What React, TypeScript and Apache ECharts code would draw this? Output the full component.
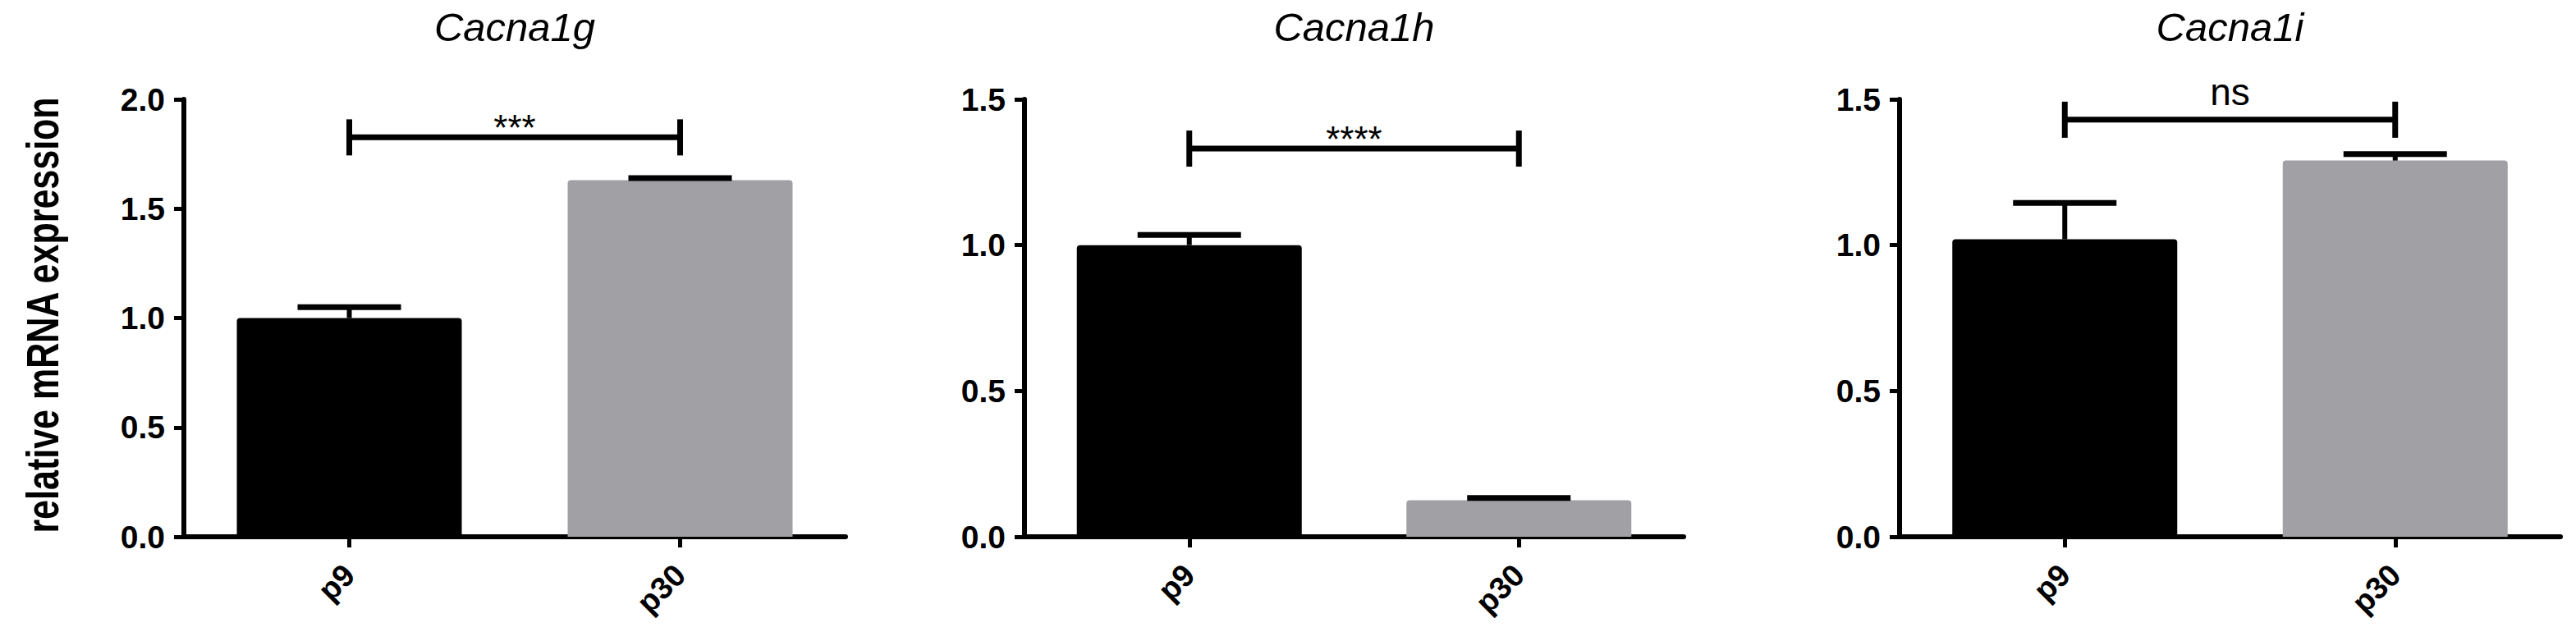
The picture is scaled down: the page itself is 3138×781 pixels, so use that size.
import React, { useEffect, useRef } from "react";
import * as echarts from "echarts";

// ---- data ----
const categories = ["p9", "p30"];
const genes = ["Cacna1g", "Cacna1h", "Cacna1i"];
const meansG = [1.0, 1.63];
const semsG = [0.05, 0.01];
const meansH = [1.0, 0.125];
const semsH = [0.035, 0.008];
const meansI = [1.02, 1.29];
const semsI = [0.125, 0.022];
const yMaxes = [2.0, 1.5, 1.5];
const yInterval = 0.5;
const sigLabels = ["***", "****", "ns"];
const sigLevels = [1.826, 1.331, 1.43];
const barColors = ["#000000", "#a1a0a5"];
const yAxisTitle = "relative mRNA expression";

const FONT = "'Liberation Sans', Arial, Helvetica, sans-serif";

export default function App() {
  const ref = useRef<HTMLDivElement>(null);

  useEffect(() => {
    if (!ref.current) return;
    const chart = echarts.init(ref.current, undefined, { renderer: "svg" });

    const means = [meansG, meansH, meansI];
    const sems = [semsG, semsH, semsI];
    const gridLefts = [224, 1248, 2314];
    const gridWidths = [806, 803, 805];

    const grids = gridLefts.map((l, i) => ({
      left: l,
      width: gridWidths[i],
      top: 121,
      bottom: 127,
      containLabel: false,
    }));

    const xAxes = gridLefts.map((_, i) => ({
      type: "category",
      gridIndex: i,
      data: categories,
      axisLine: { show: true, lineStyle: { color: "#000", width: 6 } },
      axisTick: { show: true, alignWithLabel: true, length: 13, lineStyle: { color: "#000", width: 5 } },
      axisLabel: {
        rotate: 45,
        margin: 40,
        color: "#000",
        fontSize: 38,
        fontWeight: "bold",
        fontFamily: FONT,
      },
      splitLine: { show: false },
    }));

    const yAxes = gridLefts.map((_, i) => ({
      type: "value",
      gridIndex: i,
      min: 0,
      max: yMaxes[i],
      interval: yInterval,
      axisLine: { show: true, lineStyle: { color: "#000", width: 6 } },
      axisTick: { show: true, length: 12, lineStyle: { color: "#000", width: 5 } },
      axisLabel: {
        margin: 23,
        color: "#000",
        fontSize: 39,
        fontWeight: "bold",
        fontFamily: FONT,
        formatter: (v: number) => v.toFixed(1),
      },
      splitLine: { show: false },
    }));

    const series: any[] = [];
    gridLefts.forEach((_, i) => {
      series.push({
        type: "bar",
        xAxisIndex: i,
        yAxisIndex: i,
        barWidth: 274,
        data: means[i].map((v, j) => ({
          value: v,
          itemStyle: { color: barColors[j], borderRadius: [4, 4, 0, 0] },
        })),
        z: 2,
      });
      series.push({
        type: "custom",
        xAxisIndex: i,
        yAxisIndex: i,
        z: 3,
        encode: { x: 0, y: 1 },
        data: means[i].map((m, j) => [j, m, sems[i][j]]),
        renderItem: (params: any, api: any) => {
          const xi = api.value(0);
          const m = api.value(1);
          const s = api.value(2);
          const b = api.coord([xi, m]);
          const t = api.coord([xi, m + s]);
          return {
            type: "group",
            children: [
              {
                type: "line",
                shape: { x1: b[0], y1: b[1], x2: t[0], y2: t[1] },
                style: { stroke: "#000", lineWidth: 6 },
              },
              {
                type: "line",
                shape: { x1: t[0] - 63, y1: t[1], x2: t[0] + 63, y2: t[1] },
                style: { stroke: "#000", lineWidth: 7 },
              },
            ],
          };
        },
      });
      const label = sigLabels[i];
      const isNs = label === "ns";
      series.push({
        type: "custom",
        xAxisIndex: i,
        yAxisIndex: i,
        z: 4,
        clip: false,
        encode: { x: 0, y: 1 },
        data: [[0, sigLevels[i], 1]],
        renderItem: (params: any, api: any) => {
          const a = api.coord([api.value(0), api.value(1)]);
          const b = api.coord([api.value(2), api.value(1)]);
          const h = 22;
          return {
            type: "group",
            children: [
              {
                type: "line",
                shape: { x1: a[0], y1: a[1], x2: b[0], y2: b[1] },
                style: { stroke: "#000", lineWidth: 7 },
              },
              {
                type: "line",
                shape: { x1: a[0], y1: a[1] - h, x2: a[0], y2: a[1] + h },
                style: { stroke: "#000", lineWidth: 7 },
              },
              {
                type: "line",
                shape: { x1: b[0], y1: b[1] - h, x2: b[0], y2: b[1] + h },
                style: { stroke: "#000", lineWidth: 7 },
              },
              {
                type: "text",
                x: (a[0] + b[0]) / 2,
                y: a[1] - (isNs ? 34 : 12),
                style: {
                  text: label,
                  fill: "#000",
                  fontSize: isNs ? 46 : 44,
                  fontFamily: FONT,
                  align: "center",
                  verticalAlign: "middle",
                },
              },
            ],
          };
        },
      });
    });

    const titles = genes.map((g, i) => ({
      text: g,
      left: gridLefts[i] + gridWidths[i] / 2,
      top: 8,
      padding: 0,
      textAlign: "center",
      textStyle: {
        color: "#000",
        fontStyle: "italic",
        fontWeight: "normal",
        fontSize: 49,
        fontFamily: FONT,
      },
    }));

    chart.setOption({
      animation: false,
      backgroundColor: "#ffffff",
      title: titles,
      grid: grids,
      xAxis: xAxes,
      yAxis: yAxes,
      series,
      graphic: [
        {
          type: "text",
          x: 52,
          y: 384,
          rotation: Math.PI / 2,
          scaleY: 1.3,
          style: {
            text: yAxisTitle,
            fill: "#000",
            fontSize: 43,
            fontWeight: "bold",
            fontFamily: FONT,
            align: "center",
            verticalAlign: "middle",
          },
        },
      ],
    });

    return () => chart.dispose();
  }, []);

  return (
    <div
      ref={ref}
      style={{ position: "absolute", left: 0, top: 0, width: 3138, height: 781, background: "#fff" }}
    />
  );
}
